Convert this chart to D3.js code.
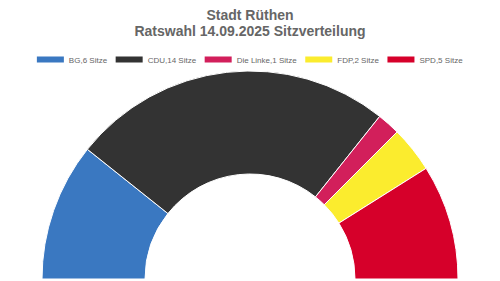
<!DOCTYPE html>
<html>
<head>
<meta charset="utf-8">
<script src="https://cdn.jsdelivr.net/npm/d3@7"></script>
<style>
  body { margin: 0; background: #fff; }
  svg { display: block; }
</style>
</head>
<body>
<script>
// Seat data
var parties = ["BG", "CDU", "Die Linke", "FDP", "SPD"];
var seats = [6, 14, 1, 2, 5];
var colors = ["#3a78c1", "#333333", "#d21f5b", "#fbec2e", "#d6002a"];
var titleLines = ["Stadt Rüthen", "Ratswahl 14.09.2025 Sitzverteilung"];

var w = 500,
    h = 281;

var svg = d3.select("body").append("svg")
    .attr("width", w)
    .attr("height", h);

svg.append("rect")
    .attr("width", w)
    .attr("height", h)
    .attr("fill", "#fff");

// Title
svg.selectAll("text.title")
  .data(titleLines)
  .enter().append("text")
    .attr("class", "title")
    .attr("x", w / 2)
    .attr("y", function(d, i) { return 19.5 + i * 16.5; })
    .attr("text-anchor", "middle")
    .style("font-family", "'Liberation Sans', Arial, sans-serif")
    .style("font-weight", "bold")
    .style("font-size", "14px")
    .style("fill", "#666")
    .text(function(d) { return d; });

// Legend
var legendData = parties.map(function(p, i) {
  return { label: p + "," + seats[i] + " Sitze", color: colors[i] };
});

var legend = svg.append("g");
var item = legend.selectAll("g")
  .data(legendData)
  .enter().append("g");

item.append("rect")
    .attr("width", 27)
    .attr("height", 6)
    .attr("y", -6)
    .attr("fill", function(d) { return d.color; });

item.append("text")
    .attr("x", 32)
    .style("font-family", "'Liberation Sans', Arial, sans-serif")
    .style("font-size", "8px")
    .style("fill", "#666")
    .text(function(d) { return d.label; });

var xPos = 0;
item.each(function() {
  d3.select(this).attr("transform", "translate(" + xPos + ",0)");
  xPos += this.getBBox().width + 8;
});
var legendWidth = xPos - 8;
legend.attr("transform", "translate(" + ((w - legendWidth) / 2) + ",62.5)");

// Half donut
var cx = 250, cy = 279, outerR = 208, innerR = 105;

var pie = d3.pie()
    .sort(null)
    .startAngle(-Math.PI / 2)
    .endAngle(Math.PI / 2);

var arc = d3.arc()
    .innerRadius(innerR)
    .outerRadius(outerR);

svg.append("g")
    .attr("transform", "translate(" + cx + "," + cy + ")")
  .selectAll("path")
  .data(pie(seats))
  .enter().append("path")
    .attr("d", arc)
    .attr("fill", function(d, i) { return colors[i]; })
    .attr("stroke", "#fff")
    .attr("stroke-width", 1);
</script>
</body>
</html>
